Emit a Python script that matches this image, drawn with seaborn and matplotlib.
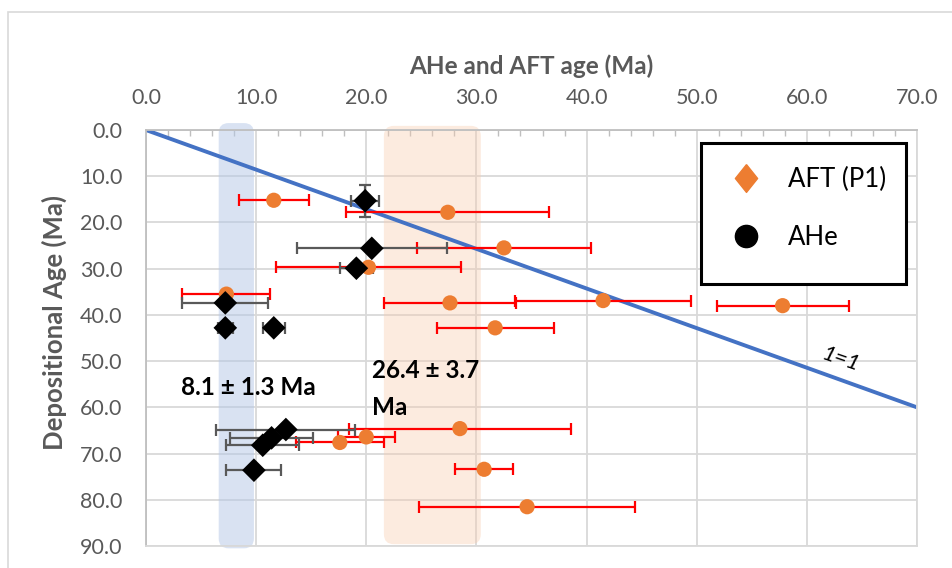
import numpy as np
import matplotlib
matplotlib.use("Agg")
import matplotlib.pyplot as plt
import seaborn as sns
from matplotlib.lines import Line2D
from matplotlib.patches import FancyBboxPatch, Rectangle
from matplotlib.ticker import MultipleLocator, FormatStrFormatter

# -------------------------
# Data
# -------------------------
# AFT (P1): apatite fission track age vs depositional age
aft_age = [11.6, 27.4, 32.5, 20.2, 7.3, 27.6, 41.5, 57.8, 31.7, 28.5, 20.0, 17.6, 30.7, 34.6]
aft_dep = [15.2, 17.8, 25.5, 29.7, 35.5, 37.4, 36.9, 38.0, 42.8, 64.6, 66.4, 67.6, 73.4, 81.5]
aft_err = [3.2, 9.2, 7.9, 8.4, 4.0, 6.0, 8.0, 6.0, 5.3, 10.1, 2.6, 4.0, 2.6, 9.8]

# AHe: apatite (U-Th)/He ages
ahe_age = [19.9, 20.5, 19.1, 7.2, 7.2, 11.6, 12.7, 11.4, 10.6, 9.8]
ahe_dep = [15.3, 25.6, 29.9, 37.4, 42.8, 42.8, 64.8, 66.6, 68.2, 73.6]
ahe_err = [1.3, 6.8, 1.5, 3.9, 0.7, 1.0, 6.3, 3.8, 3.3, 2.5]
ahe_dep_err = [3.5, 0, 0, 0, 0, 0, 0, 0, 0, 0]

# 1=1 reference line
line_x = [0.0, 70.0]
line_y = [0.0, 60.0]

# shaded age bands (x range, y range)
ahe_band = [6.6, 9.8, -1.5, 90.5]
aft_band = [21.6, 30.4, -0.9, 89.6]

# -------------------------
# Style
# -------------------------
sns.set_theme(style="white")
plt.rcParams['font.family'] = ['Lato', 'DejaVu Sans']

ORANGE = '#ED7D31'
BLUE = '#4472C4'
GREY_TXT = '#595959'
GRID = '#D9D9D9'

fig = plt.figure(figsize=(9.53, 5.68), dpi=100)
ax = fig.add_axes([0.1532, 0.0387, 0.809, 0.7324])

# chart-area border (Excel style)
fig.patches.append(Rectangle((0.0084, -0.05), 1.1, 1.0289, transform=fig.transFigure,
                             fill=False, edgecolor='#D9D9D9', lw=1.2))

ax.set_xlim(0, 70)
ax.set_ylim(90, 0)

# bands
for band, col, al in [(ahe_band, '#B4C7E7', 0.5), (aft_band, '#F8CBAD', 0.38)]:
    x0, x1, y0, y1 = band
    p = FancyBboxPatch((x0, y0), x1 - x0, y1 - y0,
                       boxstyle="round,pad=0,rounding_size=0.9", mutation_aspect=2.4,
                       facecolor=col, edgecolor='none', alpha=al, zorder=1.5,
                       transform=ax.transData, clip_on=False)
    ax.add_patch(p)

# 1=1 line
ax.plot(line_x, line_y, color=BLUE, lw=2.8, zorder=2, solid_capstyle='butt')
ax.text(63.1, 49.6, '1=1', style='italic', fontsize=16, rotation=-19,
        ha='center', va='center', color='black')

# error bars
ax.errorbar(aft_age, aft_dep, xerr=aft_err, fmt='none', ecolor='#FF0000',
            elinewidth=1.6, capsize=4, capthick=1.6, zorder=3)
ax.errorbar(ahe_age, ahe_dep, xerr=ahe_err, fmt='none', ecolor='#595959',
            elinewidth=1.6, capsize=4, capthick=1.6, zorder=3)
ye = np.array(ahe_dep_err)
m = ye > 0
ax.errorbar(np.array(ahe_age)[m], np.array(ahe_dep)[m], yerr=ye[m], fmt='none',
            ecolor='#595959', elinewidth=1.6, capsize=4, capthick=1.6, zorder=3)

# points
sns.scatterplot(x=aft_age, y=aft_dep, marker='o', color=ORANGE, s=120,
                edgecolor='none', zorder=4, ax=ax, legend=False)
sns.scatterplot(x=ahe_age, y=ahe_dep, marker='D', color='black', s=145,
                edgecolor='none', zorder=5, ax=ax, legend=False)

# band annotations
ax.text(3.2, 55.8, '8.1 ± 1.3 Ma', fontsize=17.5, fontweight='bold', va='center',
        color='black', zorder=6)
ax.text(20.5, 56.0, '26.4 ± 3.7\nMa', fontsize=17.5, fontweight='bold', va='center',
        linespacing=1.7, color='black', zorder=6)

# axes
ax.xaxis.tick_top()
ax.xaxis.set_label_position('top')
ax.xaxis.set_major_locator(MultipleLocator(10))
ax.xaxis.set_minor_locator(MultipleLocator(2))
ax.yaxis.set_major_locator(MultipleLocator(10))
ax.xaxis.set_major_formatter(FormatStrFormatter('%.1f'))
ax.yaxis.set_major_formatter(FormatStrFormatter('%.1f'))
ax.tick_params(axis='x', which='major', length=0, pad=16, labelsize=15.5, labelcolor=GREY_TXT)
ax.tick_params(axis='x', which='minor', top=True, bottom=False, direction='in',
               length=4, width=1, color='#BFBFBF')
ax.tick_params(axis='y', which='major', length=0, pad=17, labelsize=15.5, labelcolor=GREY_TXT)

ax.grid(True, which='major', color=GRID, lw=1.3)
ax.set_axisbelow(True)
for s in ['right', 'bottom']:
    ax.spines[s].set_color(GRID)
    ax.spines[s].set_linewidth(1.3)
for s in ['left', 'top']:
    ax.spines[s].set_color('#BFBFBF')
    ax.spines[s].set_linewidth(1.3)

ax.set_xlabel('AHe and AFT age (Ma)', fontsize=17.5, fontweight='bold', color=GREY_TXT, labelpad=10)
ax.set_ylabel('Depositional Age (Ma)', fontsize=18.5, fontweight='bold', color=GREY_TXT)
ax.yaxis.set_label_coords(-0.1025, 0.538)

# legend with Excel-like box
ax.add_patch(Rectangle((0.7198, 0.6298), 0.2659, 0.339, transform=ax.transAxes,
                       facecolor='white', edgecolor='black', lw=2.2, zorder=7))
tall_diamond = [(0, 1), (0.8, 0), (0, -1), (-0.8, 0), (0, 1)]
handles = [Line2D([], [], marker=tall_diamond, color=ORANGE, ls='', ms=20),
           Line2D([], [], marker='o', color='black', ls='', ms=16)]
leg = ax.legend(handles, ['AFT (P1)', 'AHe'], loc='upper left', bbox_to_anchor=(0.761, 0.912),
                frameon=False, fontsize=18.5, labelspacing=1.3, handlelength=1.0,
                handletextpad=1.15, borderpad=0, borderaxespad=0, labelcolor='black')
leg.set_zorder(8)

fig.savefig('out.png', dpi=100)
